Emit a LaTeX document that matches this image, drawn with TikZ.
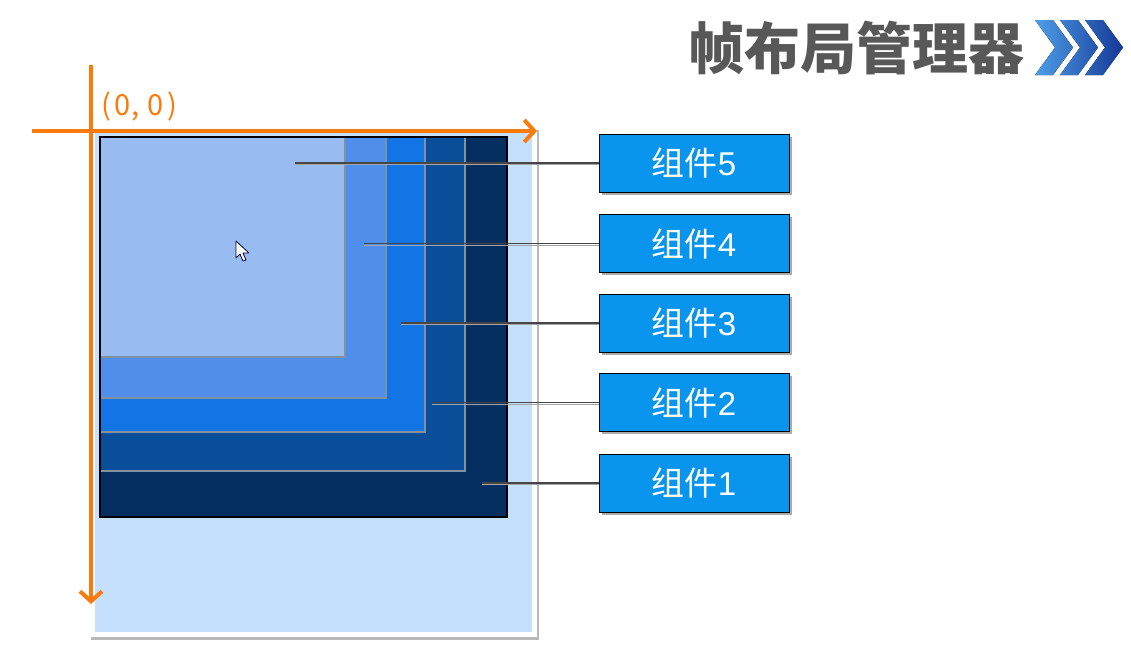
\documentclass[tikz,border=0pt]{standalone}
\usepackage{fontspec}
\newfontfamily\cjk{Noto Sans CJK SC}
\newfontfamily\arialike{Liberation Sans}
\usetikzlibrary{arrows.meta,shadows}
\definecolor{axisorange}{RGB}{250,122,12}
\definecolor{panel}{RGB}{197,224,252}
\definecolor{cfive}{RGB}{152,188,242}
\definecolor{cfour}{RGB}{79,143,235}
\definecolor{cthree}{RGB}{19,117,229}
\definecolor{ctwo}{RGB}{10,78,153}
\definecolor{cone}{RGB}{5,47,96}
\definecolor{boxblue}{RGB}{9,148,238}
\definecolor{titlegray}{RGB}{88,88,88}
\definecolor{chevA}{RGB}{78,158,232}
\definecolor{chevB}{RGB}{20,56,150}
\tikzset{
  axisline/.style={draw=axisorange, line width=4pt, -{Straight Barb[length=10pt,width=22pt,line width=4pt]}},
  inner/.style={draw={rgb,255:red,128;green,145;blue,160}, line width=1.5pt},
  label box/.style={draw=black, line width=1pt, fill=boxblue, minimum width=190pt, minimum height=58pt, inner sep=0pt,
    text=white, font=\cjk\fontsize{33}{33}\selectfont,
    drop shadow={shadow xshift=2.5pt, shadow yshift=-2.5pt, opacity=0.6, fill=black!55}},
  leader/.style={draw={rgb,255:red,70;green,70;blue,70}, line width=1.3pt},
  leadershade/.style={draw={rgb,255:red,165;green,165;blue,165}, line width=1pt}
}
\begin{document}
\begin{tikzpicture}[x=1pt,y=-1pt]
\useasboundingbox (0,0) rectangle (1131,651);
\fill[white] (0,0) rectangle (1131,651);
% title
\node[text=titlegray, font=\cjk\bfseries\fontsize{56}{56}\selectfont, inner sep=0pt] (title) at (856,48) {帧布局管理器};
\fill[shading=axis, left color=chevA, right color=chevB, shading angle=90]
  (1035,20) -- (1053,20) -- (1073,47.5) -- (1053,75) -- (1035,75) -- (1055,47.5) -- cycle
  (1060,20) -- (1078,20) -- (1098,47.5) -- (1078,75) -- (1060,75) -- (1080,47.5) -- cycle
  (1085,20) -- (1103,20) -- (1123,47.5) -- (1103,75) -- (1085,75) -- (1105,47.5) -- cycle;
% container panel
\fill[white, drop shadow={shadow xshift=1.5pt, shadow yshift=-2.5pt, opacity=0.45, fill=black!60}] (89,127) rectangle (537,637);
\fill[panel] (95,132) rectangle (532,632);
% nested components
\fill[cone] (100,137) rectangle (507,517);
\draw[inner, fill=ctwo] (100,137) rectangle (465,471);
\draw[inner, fill=cthree] (100,137) rectangle (425,432);
\draw[inner, fill=cfour] (100,137) rectangle (386,398);
\draw[inner, fill=cfive] (100,137) rectangle (345,357);
\draw[black, line width=1.5pt] (100,137) rectangle (507,517);
% cursor
\draw[fill=white, draw=black!80!blue, line width=0.8pt, line join=round]
  (236,241) -- (236,258) -- (240,254) -- (243,261) -- (246,260) -- (243,253) -- (249,253) -- cycle;
% axes
\coordinate (xs) at (32,131);
\coordinate (xe) at (537,131);
\coordinate (ys) at (91,65);
\coordinate (ye) at (91,604);
\draw[axisline] (xs) -- (xe);
\draw[axisline] (ys) -- (ye);
\node[text=axisorange, font=\cjk\fontsize{29}{29}\selectfont, anchor=west, inner sep=0pt] (origin) at (101,106) {(\hspace{4pt}0,\hspace{8pt}0\hspace{4pt})};
% label boxes
\node[label box] (b5) at (694,163) {组件\arialike 5};
\node[label box] (b4) at (694,243.5) {组件\arialike 4};
\node[label box] (b3) at (694,323) {组件\arialike 3};
\node[label box] (b2) at (694,402.5) {组件\arialike 2};
\node[label box] (b1) at (694,483) {组件\arialike 1};
% leader start points
\coordinate (c5) at (295,163);
\coordinate (c4) at (364,243.5);
\coordinate (c3) at (401,323);
\coordinate (c2) at (432,402.5);
\coordinate (c1) at (482,483);
\foreach \i in {1,...,5}{
  \draw[leadershade] ([yshift=-1.6pt]c\i) -- ([yshift=-1.6pt]b\i.west);
  \draw[leader] (c\i) -- (b\i.west);
}
\end{tikzpicture}
\end{document}
